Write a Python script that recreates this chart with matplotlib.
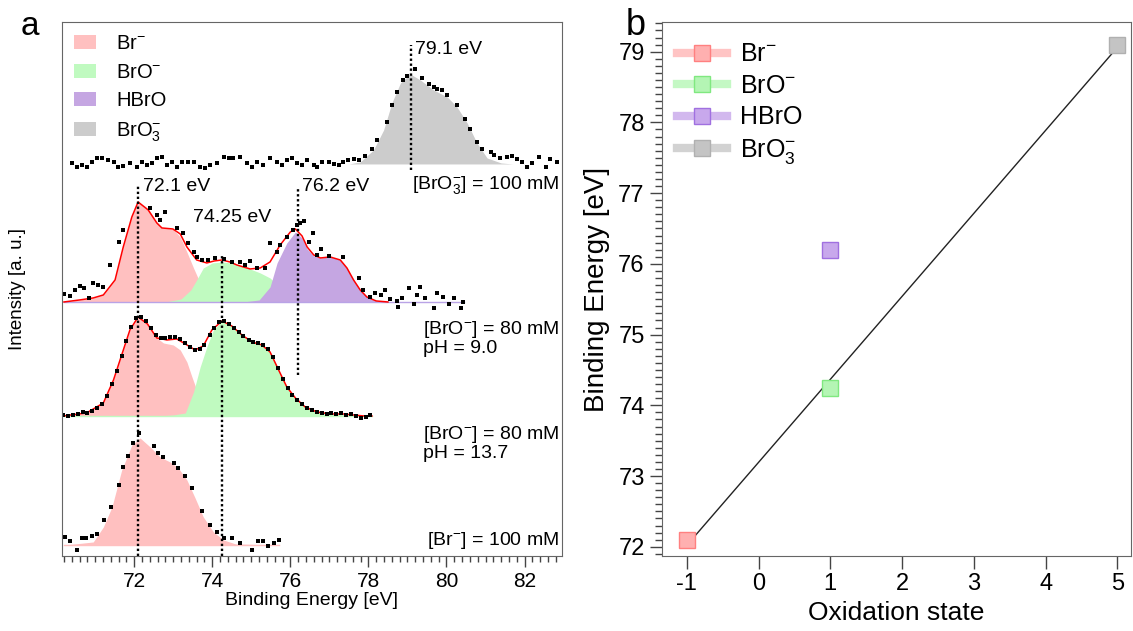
import matplotlib
matplotlib.use("Agg")
import matplotlib.pyplot as plt
from matplotlib.patches import Patch
from matplotlib.lines import Line2D
from matplotlib.ticker import MultipleLocator
import numpy as np

plt.rcParams["font.family"] = ["Liberation Sans", "DejaVu Sans"]
plt.rcParams["mathtext.default"] = "regular"
plt.rcParams["axes.unicode_minus"] = False

# ---- colours ----
C_BR = "#ffc0c0"; C_BRO = "#c0fac0"; C_HBRO = "#c5a6e2"; C_BRO3 = "#cccccc"

# ---- panel a: spectra (binding energy [eV], intensity in a.u. above each baseline) ----
# vertical offsets of the stacked spectra
OFF = {"br": 11, "bro137": 140, "bro90": 254, "bro3": 392}

# [BrO3-] = 100 mM
bro3_E = [70.40, 70.53, 70.66, 70.78, 70.91, 71.04, 71.17, 71.34, 71.47, 71.59, 71.72, 71.89,
          72.07, 72.19, 72.32, 72.45, 72.58, 72.71, 72.84, 72.96, 73.09, 73.22, 73.39, 73.52,
          73.69, 73.82, 73.95, 74.12, 74.29, 74.42, 74.54, 74.72, 74.89, 75.02, 75.14, 75.31,
          75.48, 75.66, 75.78, 75.91, 76.04, 76.17, 76.30, 76.43, 76.60, 76.68, 76.81, 76.98,
          77.11, 77.24, 77.36, 77.49, 77.62, 77.77, 77.92, 78.10, 78.22, 78.48, 78.60, 78.73,
          78.89, 79.00, 79.20, 79.38, 79.54, 79.67, 79.76, 79.89, 80.02, 80.27, 80.48, 80.61,
          80.78, 80.91, 81.13, 81.21, 81.38, 81.56, 81.68, 81.81, 81.94, 82.06, 82.19, 82.37,
          82.54, 82.66, 82.84]
bro3_I = [1, -3, -1, -3, 2, 6, 6, 4, 2, -3, -2, 1, -3, 2, -1, 1, 6, 7, -1, 2, -3, 2, 2, 2,
          -3, -4, -1, 1, 7, 6, 6, 7, 1, -3, 2, -1, 6, 2, -1, 4, 6, 1, -1, 4, -1, -3, 2, 2,
          0, -1, 2, 4, 5, 4, 8, 15, 24, 42, 59, 72, 84, 88, 95, 86, 80, 77, 75, 74, 69, 59,
          45, 35, 22, 15, 12, 9, 6, 7, 8, 5, 2, -3, 1, 7, -3, 5, 2]
bro3_fit_E = [77.5, 77.79, 78.13, 78.39, 78.60, 78.82, 79.07, 79.33, 79.67, 80.02, 80.27,
              80.53, 80.78, 81.04, 81.40, 81.7]
bro3_fit_I = [0, 2, 14, 34, 61, 81, 90, 84, 74, 67, 57, 41, 21, 6, 1, 0]

# [BrO-] = 80 mM, pH 9.0
bro90_E = [70.20, 70.36, 70.48, 70.61, 70.72, 70.85, 70.95, 71.08, 71.21, 71.38, 71.62, 71.72,
           72.41, 72.58, 72.66, 72.79, 73.09, 73.26, 73.39, 73.52, 73.60, 73.73, 73.90, 74.07,
           74.29, 74.50, 74.72, 74.84, 74.97, 75.14, 75.36, 75.48, 75.66, 75.74, 75.91, 76.08,
           76.18, 76.24, 76.34, 76.47, 76.58, 76.68, 76.78, 77.00, 77.36, 77.75, 77.86, 78.05,
           78.18, 78.31, 78.43, 78.56, 78.72, 78.75, 78.86, 79.03, 79.16, 79.25, 79.33, 79.46,
           79.67, 79.76, 79.91, 80.06, 80.20, 80.36, 80.43]
bro90_I = [8, 6, 12, 16, 14, 4, 19, 17, 15, 37, 60, 72, 94, 87, 82, 90, 74, 69, 59, 50, 45, 42,
           42, 44, 43, 40, 40, 37, 41, 34, 34, 59, 50, 57, 65, 72, 77, 79, 81, 60, 69, 47, 53,
           46, 45, 24, 12, 5, 9, 7, 12, 3, 1, -5, 4, 14, -2, 7, 15, 4, -6, 9, 5, -2, 4, -6, 0]
bro90_env_E = [70.2, 70.6, 70.95, 71.21, 71.51, 71.72, 71.94, 72.1, 72.36, 72.58, 72.71, 72.99,
               73.18, 73.35, 73.6, 73.86, 74.05, 74.25, 74.45, 74.63, 74.97, 75.23, 75.48,
               75.74, 76.0, 76.13, 76.3, 76.43, 76.6, 76.77, 77.02, 77.28, 77.45, 77.62, 77.79,
               77.96, 78.2, 78.5]
bro90_env_I = [0, 2, 4, 7, 22, 55, 85, 100, 92, 79, 74, 73, 68, 55, 42, 39, 41, 42, 40, 37, 33,
               34, 40, 57, 70, 73, 66, 55, 47, 44, 45, 42, 34, 22, 12, 5, 1, 0]
bro90_br_E = [70.2, 70.6, 70.95, 71.21, 71.51, 71.72, 71.94, 72.1, 72.36, 72.58, 72.71, 72.99,
              73.18, 73.35, 73.52, 73.69, 73.86, 74.1, 74.4]
bro90_br_I = [0, 2, 4, 7, 22, 55, 85, 100, 92, 79, 74, 73, 65, 50, 34, 19, 7, 1, 0]
bro90_bro_E = [72.8, 73.2, 73.45, 73.6, 73.77, 74.0, 74.25, 74.5, 74.72, 74.97, 75.23, 75.48,
               75.7, 75.95, 76.2, 76.5]
bro90_bro_I = [0, 3, 12, 22, 34, 39, 40, 39, 36, 33, 29, 24, 16, 8, 3, 0]
bro90_hbro_E = [74.8, 75.2, 75.48, 75.66, 75.91, 76.13, 76.3, 76.43, 76.6, 76.77, 77.02, 77.28,
                77.45, 77.62, 77.79, 77.96, 78.2, 78.5]
bro90_hbro_I = [0, 2, 15, 39, 59, 70, 64, 53, 46, 44, 45, 42, 34, 22, 12, 5, 1, 0]

# [BrO-] = 80 mM, pH 13.7
bro137_E = [70.18, 70.30, 70.42, 70.55, 70.68, 70.80, 70.93, 71.05, 71.18, 71.30, 71.43, 71.55,
            71.68, 71.80, 71.93, 72.05, 72.18, 72.30, 72.43, 72.55, 72.68, 72.80, 72.93, 73.05,
            73.18, 73.30, 73.43, 73.55, 73.68, 73.80, 73.93, 74.05, 74.18, 74.30, 74.43, 74.55,
            74.68, 74.80, 74.93, 75.05, 75.18, 75.30, 75.43, 75.55, 75.68, 75.80, 75.93, 76.05,
            76.18, 76.30, 76.43, 76.55, 76.68, 76.80, 76.93, 77.05, 77.18, 77.30, 77.43, 77.55,
            77.68, 77.80, 77.93, 78.05]
bro137_I = [1, 0, 1, 2, 4, 3, 5, 8, 12, 20, 32, 45, 60, 75, 89, 98, 99, 95, 88, 81, 78, 78, 79,
            79, 77, 73, 69, 66, 67, 71, 81, 88, 94, 95, 92, 88, 84, 80, 76, 74, 73, 71, 67, 59,
            48, 37, 28, 21, 16, 12, 8, 6, 4, 3, 2, 3, 2, 3, 1, 2, 0, -2, -1, 1]
bro137_env_E = [70.18, 70.78, 71.21, 71.47, 71.68, 71.89, 72.1, 72.34, 72.58, 72.84, 73.09,
                73.31, 73.56, 73.77, 73.99, 74.25, 74.5, 74.76, 75.02, 75.27, 75.48, 75.7,
                75.91, 76.13, 76.38, 76.68, 77.02, 77.36, 77.62, 77.88, 78.09]
bro137_env_I = [0, 3, 13, 36, 61, 86, 99, 92, 78, 76, 77, 72, 66, 70, 86, 95, 90, 81, 74, 71,
                64, 46, 29, 18, 9, 4, 2, 2, 1, 0, 0]
bro137_br_E = [70.2, 70.78, 71.21, 71.47, 71.68, 71.89, 72.1, 72.34, 72.58, 72.75, 73.0, 73.18,
               73.35, 73.48, 73.6, 73.73, 73.95, 74.2, 74.6]
bro137_br_I = [0, 3, 13, 36, 61, 86, 99, 92, 78, 73, 71, 66, 54, 39, 26, 14, 4, 1, 0]
bro137_bro_E = [72.6, 73.0, 73.31, 73.52, 73.69, 73.86, 74.03, 74.25, 74.5, 74.76, 75.02,
                75.27, 75.48, 75.7, 75.91, 76.13, 76.38, 76.68, 77.02, 77.4, 77.8]
bro137_bro_I = [0, 1, 3, 24, 49, 69, 86, 95, 90, 81, 74, 72, 64, 46, 29, 18, 9, 4, 2, 1, 0]

# [Br-] = 100 mM
br_E = [70.23, 70.36, 70.53, 70.66, 70.77, 70.91, 71.04, 71.23, 71.40, 71.62, 71.72, 71.84,
        71.98, 72.13, 72.52, 72.62, 72.75, 73.02, 73.13, 73.31, 73.48, 73.73, 73.95, 74.12,
        74.29, 74.50, 74.72, 75.02, 75.18, 75.31, 75.44, 75.59, 75.70]
br_I = [8, 4, -5, 7, 7, 9, 11, 25, 38, 60, 78, 89, 102, 112, 99, 92, 88, 82, 77, 69, 57, 34,
        20, 13, 7, 7, 2, -5, 4, 4, -1, 2, 5]
br_fit_E = [70.23, 70.95, 71.21, 71.43, 71.68, 71.94, 72.15, 72.41, 72.66, 72.92, 73.13, 73.35,
            73.56, 73.77, 74.03, 74.29, 74.6, 75.7]
br_fit_I = [0, 3, 18, 38, 75, 100, 107, 98, 88, 83, 77, 65, 47, 28, 13, 5, 1, 0]

# peak positions marked with dotted lines
peak_E = [72.1, 74.25, 76.2, 79.1]
peak_lbl = ["72.1 eV", "74.25 eV", "76.2 eV", "79.1 eV"]

# ---- panel b ----
ox_state = [-1, 1, 1, 5]
be_b = [72.1, 74.25, 76.2, 79.1]
species = ["Br$^{-}$", "BrO$^{-}$", "HBrO", "BrO$_3^{-}$"]
fit_x = [-1, 5]
fit_y = [72.02, 79.06]

mk_face = ["#ffb0b0", "#b4f5b4", "#c8a8ec", "#c4c4c4"]
mk_edge = ["#ff8080", "#80e880", "#a070e0", "#b0b0b0"]
leg_line = ["#ffc4c4", "#c4f8c4", "#d2b8ee", "#d2d2d2"]

fig = plt.figure(figsize=(11.33, 6.31), dpi=100)
axA = fig.add_axes([0.0547, 0.1189, 0.4410, 0.8463])
axB = fig.add_axes([0.5843, 0.1189, 0.4139, 0.8463])

# ---------- panel a ----------
def fill(E, I, off, color):
    E = np.asarray(E); I = np.asarray(I)
    axA.fill_between(E, off, off + I, color=color, lw=0)

fill(br_fit_E, br_fit_I, OFF["br"], C_BR)
axA.plot([70.2, 75.7], [OFF["br"]] * 2, color=C_BR, lw=1)

fill(bro137_br_E, bro137_br_I, OFF["bro137"], C_BR)
fill(bro137_bro_E, bro137_bro_I, OFF["bro137"], C_BRO)
axA.plot([70.2, 78.1], [OFF["bro137"]] * 2, color=C_BRO, lw=1)
axA.plot(bro137_env_E, np.add(bro137_env_I, OFF["bro137"]), color="red", lw=1.1)

fill(bro90_br_E, bro90_br_I, OFF["bro90"], C_BR)
fill(bro90_bro_E, bro90_bro_I, OFF["bro90"], C_BRO)
fill(bro90_hbro_E, bro90_hbro_I, OFF["bro90"], C_HBRO)
axA.plot([70.2, 80.45], [OFF["bro90"]] * 2, color="#b9a3e6", lw=1)
axA.plot(bro90_env_E, np.add(bro90_env_I, OFF["bro90"]), color="red", lw=1.1)

fill(bro3_fit_E, bro3_fit_I, OFF["bro3"], C_BRO3)

for E, I, k in [(br_E, br_I, "br"), (bro137_E, bro137_I, "bro137"),
                (bro90_E, bro90_I, "bro90"), (bro3_E, bro3_I, "bro3")]:
    axA.plot(E, np.add(I, OFF[k]), ls="none", marker="s", ms=3.2, color="black", mew=0)

# dotted peak markers
dot = dict(color="black", lw=1.7, ls=(0, (1, 1.1)))
axA.plot([peak_E[0]] * 2, [0, 371], **dot)
axA.plot([peak_E[1]] * 2, [0, 301], **dot)
axA.plot([peak_E[2]] * 2, [181, 368], **dot)
axA.plot([peak_E[3]] * 2, [386, 511], **dot)
fs = 14
axA.text(peak_E[0] + 0.12, 369, peak_lbl[0], fontsize=fs, va="center")
axA.text(73.5, 338, peak_lbl[1], fontsize=fs, va="center")
axA.text(peak_E[2] + 0.1, 369, peak_lbl[2], fontsize=fs, va="center")
axA.text(peak_E[3] + 0.1, 506, peak_lbl[3], fontsize=fs, va="center")

axA.text(82.88, 371, "[BrO$_3^{-}$] = 100 mM", fontsize=fs, ha="right", va="center")
axA.text(82.88, 218, "[BrO$^{-}$] = 80 mM\npH = 9.0", fontsize=fs, ha="right", va="center",
         multialignment="left", linespacing=1.05)
axA.text(82.88, 113, "[BrO$^{-}$] = 80 mM\npH = 13.7", fontsize=fs, ha="right", va="center",
         multialignment="left", linespacing=1.05)
axA.text(82.88, 15, "[Br$^{-}$] = 100 mM", fontsize=fs, ha="right", va="center")

axA.set_xlim(70.15, 82.95)
axA.set_ylim(0, 534)
axA.set_yticks([])
axA.xaxis.set_major_locator(MultipleLocator(2))
axA.xaxis.set_minor_locator(MultipleLocator(0.2))
axA.tick_params(axis="x", which="major", direction="out", length=8, width=1, labelsize=15,
                color="#444444")
axA.tick_params(axis="x", which="minor", direction="out", length=4.5, width=1, color="#444444")
axA.set_xlabel("Binding Energy [eV]", fontsize=14, labelpad=1)
axA.set_ylabel("Intensity [a. u.]", fontsize=13.5, labelpad=26)
for s in axA.spines.values():
    s.set_color("#666666")

handlesA = [Patch(facecolor=c, edgecolor="none") for c in [C_BR, C_BRO, C_HBRO, C_BRO3]]
axA.legend(handlesA, species, loc="upper left", frameon=False, fontsize=14.5,
           handlelength=1.1, handleheight=0.7, handletextpad=1.0, labelspacing=0.48,
           borderaxespad=0.2, bbox_to_anchor=(0.0, 1.0))

# ---------- panel b ----------
axB.plot(fit_x, fit_y, color="#222222", lw=1)
for i in range(len(ox_state)):
    axB.plot(ox_state[i], be_b[i], marker="s", ms=12, mfc=mk_face[i], mec=mk_edge[i], mew=1,
             ls="none", clip_on=False)
handlesB = [Line2D([], [], color=leg_line[i], lw=6, marker="s", ms=12, mfc=mk_face[i],
                   mec=mk_edge[i]) for i in range(4)]
axB.legend(handlesB, species, loc="upper left", frameon=False, fontsize=18,
           handlelength=2.0, handletextpad=0.5, labelspacing=0.3, borderaxespad=0.2,
           bbox_to_anchor=(0.0, 0.99))

axB.set_xlim(-1.345, 5.19)
axB.set_ylim(71.87, 79.42)
axB.yaxis.set_major_locator(MultipleLocator(1))
axB.yaxis.set_minor_locator(MultipleLocator(0.1))
axB.xaxis.set_major_locator(MultipleLocator(1))
axB.tick_params(which="major", direction="out", length=9, width=1, labelsize=17,
                color="#444444")
axB.tick_params(which="minor", direction="out", length=5, width=1, color="#444444")
axB.set_xlabel("Oxidation state", fontsize=19, labelpad=4)
axB.set_ylabel("Binding Energy [eV]", fontsize=20, labelpad=6)
for s in axB.spines.values():
    s.set_color("#666666")

fig.text(0.018, 0.945, "a", fontsize=24)
fig.text(0.552, 0.945, "b", fontsize=26)

fig.savefig("out.png", dpi=100)
